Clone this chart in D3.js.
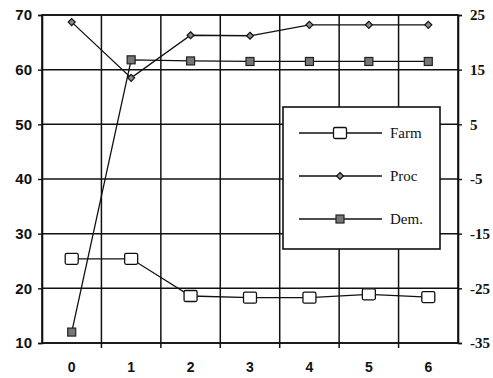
<!DOCTYPE html>
<html>
<head>
<meta charset="utf-8">
<script src="https://cdn.jsdelivr.net/npm/d3@7"></script>
<style>
  html, body { margin: 0; padding: 0; background: #fff; }
  svg { display: block; }
</style>
</head>
<body>
<svg id="chart" width="493" height="378"></svg>
<script>
// Periods on the x axis
const periods = ["0", "1", "2", "3", "4", "5", "6"];

// Series plotted against the left axis
const farm = [25.4, 25.4, 18.6, 18.3, 18.3, 18.9, 18.4];
const proc = [68.7, 58.5, 66.3, 66.2, 68.2, 68.2, 68.2];

// Series plotted against the right axis
const dem = [-33.0, 16.8, 16.6, 16.5, 16.5, 16.5, 16.5];

// Tick values
const leftTicks = [10, 20, 30, 40, 50, 60, 70];
const rightTicks = [-35, -25, -15, -5, 5, 15, 25];

const legendNames = ["Farm", "Proc", "Dem."];

const svg = d3.select("#chart");
const m = { left: 42, right: 458, top: 15, bottom: 343 };

const x = d3.scaleBand().domain(periods).range([m.left, m.right]).padding(0);
const yL = d3.scaleLinear().domain([10, 70]).range([m.bottom, m.top]);
const yR = d3.scaleLinear().domain([-35, 25]).range([m.bottom, m.top]);
const cx = d => x(d) + x.bandwidth() / 2;

// Grid: horizontal lines at left ticks, vertical lines at period boundaries
const grid = svg.append("g").attr("stroke", "#111").attr("stroke-width", 1.5);
grid.selectAll("line.h").data(leftTicks).join("line")
  .attr("x1", m.left).attr("x2", m.right)
  .attr("y1", d => yL(d)).attr("y2", d => yL(d));
grid.selectAll("line.v").data(periods.slice(1)).join("line")
  .attr("x1", d => x(d)).attr("x2", d => x(d))
  .attr("y1", m.top).attr("y2", m.bottom);
svg.append("rect")
  .attr("x", m.left).attr("y", m.top)
  .attr("width", m.right - m.left).attr("height", m.bottom - m.top)
  .attr("fill", "none").attr("stroke", "#111").attr("stroke-width", 1.6);

// Axes
const leftAxis = d3.axisLeft(yL).tickValues(leftTicks).tickSize(4).tickPadding(6);
const rightAxis = d3.axisRight(yR).tickValues(rightTicks).tickSize(4).tickPadding(8)
  .tickFormat(d => String(d));
const bottomAxis = d3.axisBottom(x).tickSize(0).tickPadding(19);

const gL = svg.append("g").attr("transform", `translate(${m.left},0)`).call(leftAxis);
gL.selectAll("text").attr("font-family", "Liberation Sans, Arial, sans-serif")
  .attr("font-weight", "bold").attr("font-size", 15).attr("fill", "#111");

const gR = svg.append("g").attr("transform", `translate(${m.right},0)`).call(rightAxis);
gR.selectAll("text").attr("font-family", "Liberation Serif, Times New Roman, serif")
  .attr("font-weight", "bold").attr("font-size", 15).attr("fill", "#111");

const gB = svg.append("g").attr("transform", `translate(0,${m.bottom})`).call(bottomAxis);
gB.selectAll("text").attr("font-family", "Liberation Sans, Arial, sans-serif")
  .attr("font-weight", "bold").attr("font-size", 14).attr("fill", "#111");

// Small tick marks at the period boundaries under the x axis
svg.append("g").selectAll("line").data(periods.slice(1)).join("line")
  .attr("x1", d => x(d)).attr("x2", d => x(d))
  .attr("y1", m.bottom).attr("y2", m.bottom + 5)
  .attr("stroke", "#111").attr("stroke-width", 1.5);

[gL, gR, gB].forEach(g => {
  g.select(".domain").attr("stroke", "#111").attr("stroke-width", 1.6);
  g.selectAll(".tick line").attr("stroke", "#111").attr("stroke-width", 1.4);
});
gB.select(".domain").remove();

// Marker painters
const markers = {
  Farm: (g, px, py) => g.append("rect")
    .attr("x", px - 6.5).attr("y", py - 5.5).attr("width", 13).attr("height", 11).attr("rx", 1.5)
    .attr("fill", "#fff").attr("stroke", "#111").attr("stroke-width", 1.3),
  Proc: (g, px, py) => g.append("path")
    .attr("d", `M${px},${py - 3.5}L${px + 3.5},${py}L${px},${py + 3.5}L${px - 3.5},${py}Z`)
    .attr("fill", "#888").attr("stroke", "#111").attr("stroke-width", 1.2),
  "Dem.": (g, px, py) => g.append("rect")
    .attr("x", px - 4).attr("y", py - 4).attr("width", 8).attr("height", 8)
    .attr("fill", "#777").attr("stroke", "#222").attr("stroke-width", 1.2)
};

const series = [
  { name: "Farm", values: farm, y: yL },
  { name: "Proc", values: proc, y: yL },
  { name: "Dem.", values: dem, y: yR }
];

const line = (ys) => d3.line().x((d, i) => cx(periods[i])).y(d => ys(d));

series.forEach(s => {
  svg.append("path").datum(s.values)
    .attr("d", line(s.y))
    .attr("fill", "none").attr("stroke", "#111").attr("stroke-width", 1.3);
});
series.forEach(s => {
  const g = svg.append("g");
  s.values.forEach((v, i) => markers[s.name](g, cx(periods[i]), s.y(v)));
});

// Legend box
const lg = svg.append("g");
lg.append("rect")
  .attr("x", 283).attr("y", 107).attr("width", 157).attr("height", 142)
  .attr("fill", "#fff").attr("stroke", "#111").attr("stroke-width", 1.6);
legendNames.forEach((name, i) => {
  const ly = 133 + i * 43;
  lg.append("line").attr("x1", 299).attr("x2", 382).attr("y1", ly).attr("y2", ly)
    .attr("stroke", "#111").attr("stroke-width", 1.3);
  markers[name](lg, 340, ly);
  lg.append("text").attr("x", 390).attr("y", ly + 5)
    .attr("font-family", "Liberation Serif, Times New Roman, serif")
    .attr("font-size", 15).attr("fill", "#111").text(name);
});
</script>
</body>
</html>
